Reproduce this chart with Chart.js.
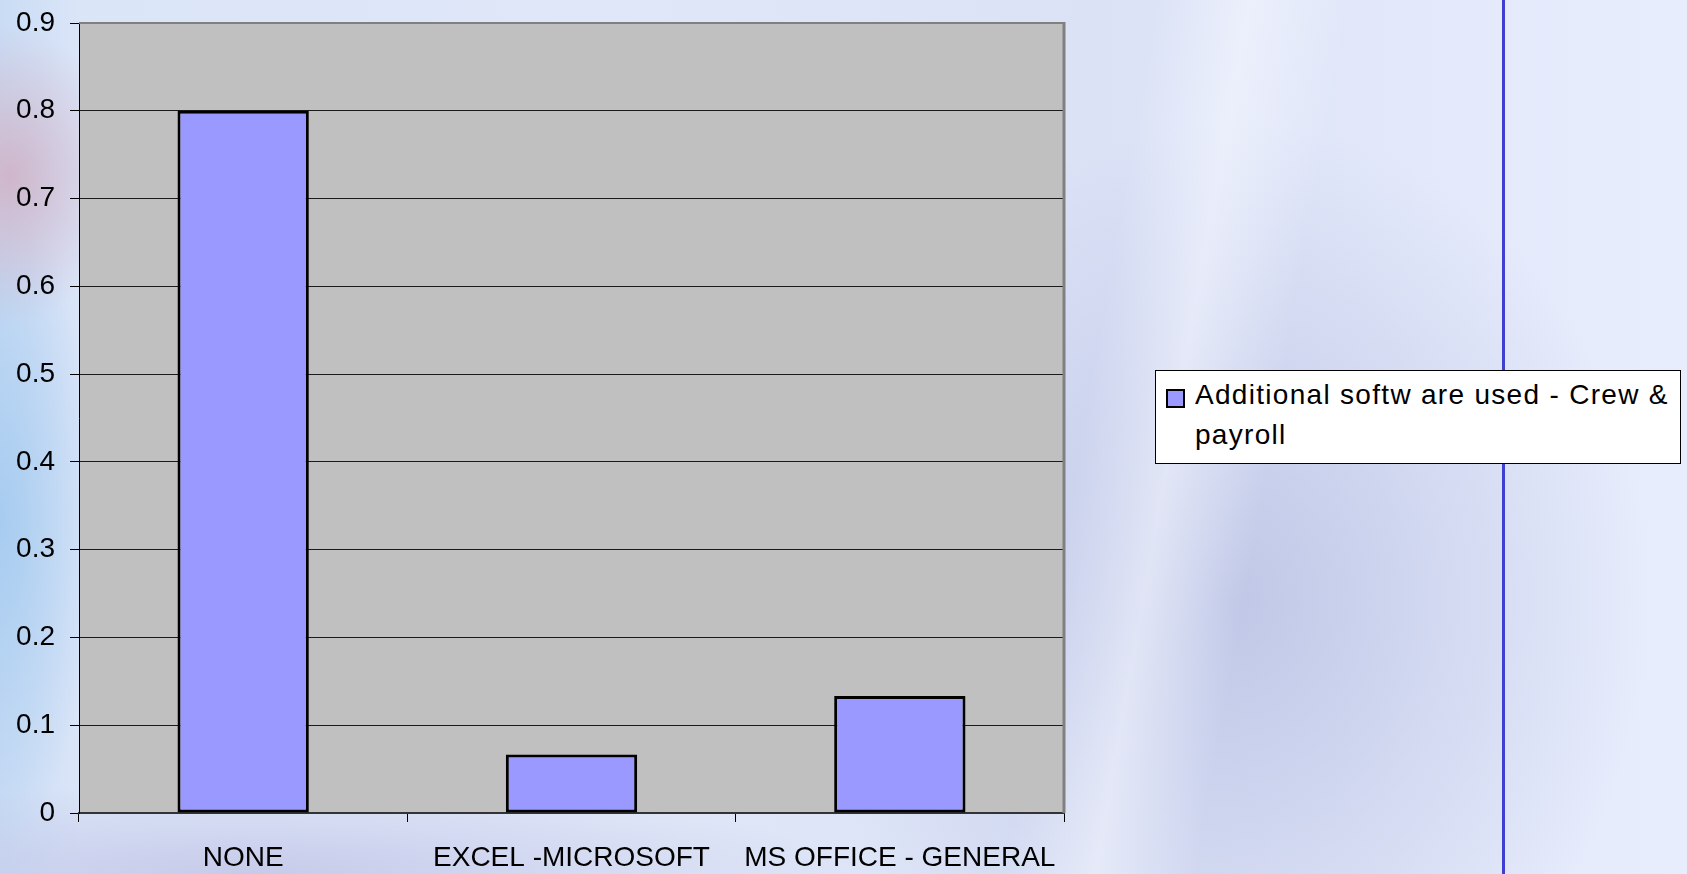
<!DOCTYPE html>
<html>
<head>
<meta charset="utf-8">
<script src="https://cdn.jsdelivr.net/npm/chart.js@4/dist/chart.umd.min.js"></script>
<style>
  html, body { margin: 0; padding: 0; }
  body {
    width: 1687px; height: 874px; overflow: hidden; position: relative;
    font-family: "Liberation Sans", Arial, sans-serif;
    background:
      radial-gradient(ellipse 110px 150px at 10px 175px, rgba(208,178,198,0.9), rgba(208,178,198,0) 100%),
      radial-gradient(ellipse 100px 320px at 0px 520px, rgba(165,203,240,0.95), rgba(165,203,240,0) 100%),
      linear-gradient(100deg, rgba(255,255,255,0) 1140px, rgba(246,248,255,0.55) 1230px, rgba(255,255,255,0) 1330px),
      radial-gradient(ellipse 420px 480px at 1230px 600px, rgba(190,198,230,0.95), rgba(190,198,230,0) 100%),
      radial-gradient(ellipse 600px 90px at 250px 874px, rgba(196,200,232,0.9), rgba(196,200,232,0) 100%),
      linear-gradient(to right, #c9dcf4 0px, #dbe5f8 80px, #dfe7f8 600px, #dbe2f6 1100px, #e3e9fa 1420px, #e7edfc 1687px);
  }
  #wrap { position: absolute; left: 0; top: 0; width: 1687px; height: 874px; }
  #vline { position: absolute; left: 1502px; top: 0; width: 3px; height: 874px; background: #3f3fd4; }
  #legend {
    position: absolute; left: 1155px; top: 370px; width: 524px; height: 92px;
    background: #fff; border: 1px solid #000;
    display: flex; align-items: flex-start;
    font-size: 28px; line-height: 40px; color: #000;
  }
  #legend .mk {
    flex: none; width: 15px; height: 15px; margin: 18px 0 0 10px;
    background: #9999ff; border: 2px solid #000;
  }
  #legend .tx { margin: 4px 0 0 10px; white-space: pre; letter-spacing: 1.3px; }
</style>
</head>
<body>
<div id="vline"></div>
<div id="wrap"><canvas id="chart" width="1687" height="874"></canvas></div>
<div id="legend"><div class="mk"></div><div class="tx" id="legendText"></div></div>
<script>
// categories + values
const categories = ['NONE', 'EXCEL -MICROSOFT', 'MS OFFICE - GENERAL'];
const shares = [0.8, 0.0667, 0.1333];
const seriesName = 'Additional softw are used - Crew &\npayroll';
const yTicks = [0, 0.1, 0.2, 0.3, 0.4, 0.5, 0.6, 0.7, 0.8, 0.9];

document.getElementById('legendText').textContent = seriesName;

// grey plot area + grey top/right frame like the Excel original
const plotFrame = {
    id: 'plotFrame',
    beforeDraw(chart) {
        const a = chart.chartArea, c = chart.ctx;
        c.save();
        c.fillStyle = '#c0c0c0';
        c.fillRect(a.left, a.top, a.right - a.left, a.bottom - a.top);
        c.restore();
    },
    afterDatasetsDraw(chart) {
        const a = chart.chartArea, c = chart.ctx;
        c.save();
        c.strokeStyle = '#808080';
        c.lineWidth = 2;
        c.beginPath();
        c.moveTo(a.left, a.top);
        c.lineTo(a.right, a.top);
        c.stroke();
        c.lineWidth = 3;
        c.beginPath();
        c.moveTo(a.right, a.top - 1);
        c.lineTo(a.right, a.bottom);
        c.stroke();
        c.restore();
    }
};

const ctx = document.getElementById('chart');
new Chart(ctx.getContext('2d'), {
    type: 'bar',
    data: {
        labels: categories,
        datasets: [{
            label: seriesName,
            data: shares,
            backgroundColor: '#9999ff',
            borderColor: '#000',
            borderWidth: 3,
            borderSkipped: false,
            categoryPercentage: 1,
            barPercentage: 0.4
        }]
    },
    options: {
        responsive: false,
        animation: false,
        layout: { padding: { left: 0, top: 23, right: 623, bottom: 0 } },
        plugins: { legend: { display: false }, tooltip: { enabled: false } },
        scales: {
            x: {
                grid: { offset: true, drawOnChartArea: false, drawTicks: true, tickLength: 9, tickColor: '#000' },
                border: { display: true, color: '#333', width: 2 },
                ticks: { color: '#000', font: { family: 'Liberation Sans', size: 28 }, padding: 19, maxRotation: 0, autoSkip: false },
                afterFit: s => { s.height = 61; s.paddingLeft = 0; s.paddingRight = 0; }
            },
            y: {
                min: yTicks[0],
                max: yTicks[yTicks.length - 1],
                afterBuildTicks: s => { s.ticks = yTicks.map(v => ({ value: v })); },
                grid: {
                    color: c => (c.tick && c.tick.value === 0.9) ? 'rgba(0,0,0,0)' : '#1a1a1a',
                    lineWidth: 1, tickLength: 9, tickColor: '#000'
                },
                border: { display: true, color: '#000', width: 1 },
                ticks: {
                    color: '#000', font: { family: 'Liberation Sans', size: 28 }, padding: 15,
                    callback: v => String(Number(v.toFixed(1)))
                },
                afterFit: s => { s.width = 79; s.paddingTop = 0; s.paddingBottom = 0; }
            }
        }
    },
    plugins: [plotFrame]
});
</script>
</body>
</html>
